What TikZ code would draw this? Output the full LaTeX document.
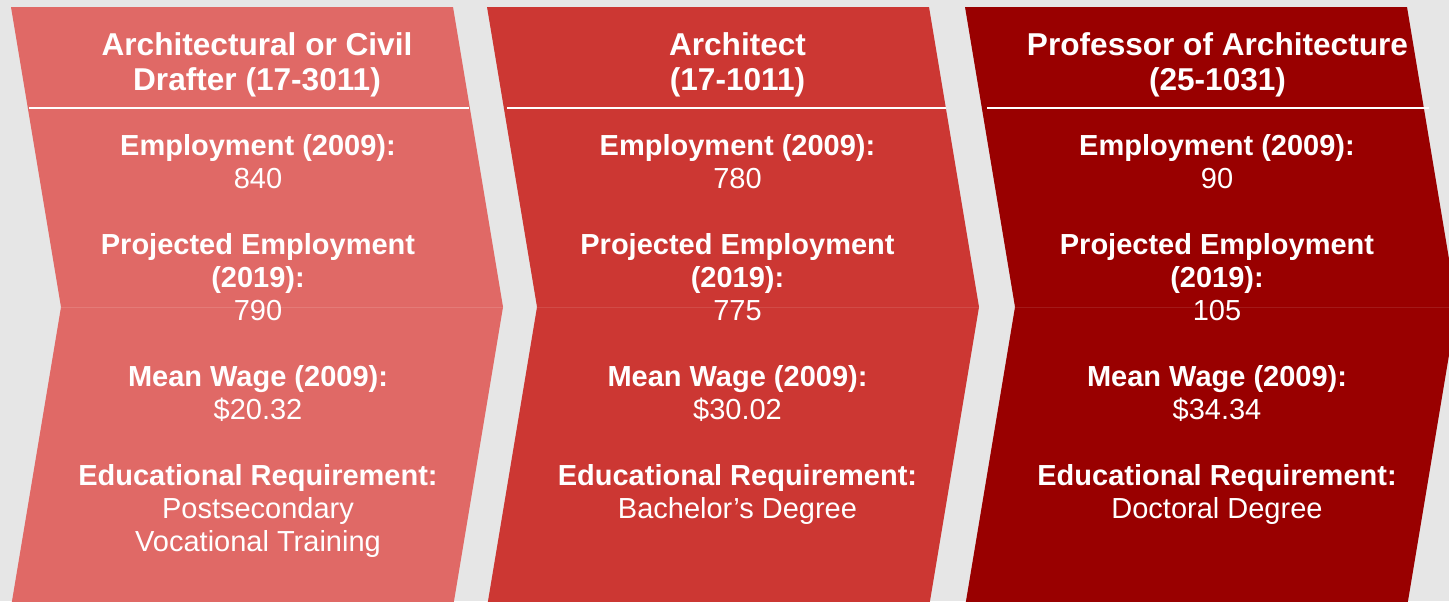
\documentclass[tikz,border=0pt]{standalone}
\usepackage{fontspec}
\setmainfont{Liberation Sans}

\definecolor{drafterred}{HTML}{E06966}
\definecolor{architectred}{HTML}{CC3733}
\definecolor{professorred}{HTML}{990000}
\definecolor{slidegray}{HTML}{E6E6E6}

% one chevron, its top left corner at (#1,7)
\newcommand{\chevronpath}[1]{(#1,7) -- ++(442,0) -- ++(50,300) -- ++(-50,300) -- ++(-442,0) -- ++(50,-300) -- cycle}
\newcommand{\firstline}{\rule{0pt}{20pt}}

\begin{document}
\begin{tikzpicture}[x=0.75pt,y=-0.75pt,
                    heading/.style={font=\fontsize{23.7pt}{26.25pt}\selectfont\bfseries,text=white,
                                    align=center,anchor=north,inner sep=0pt},
                    facts/.style={font=\fontsize{21.75pt}{24.75pt}\selectfont,text=white,
                                  align=center,anchor=north,inner sep=0pt},
                    underline/.style={white,line width=1.5pt},
                    seam/.style={line width=0.6pt}]
      \useasboundingbox (0,0) rectangle (1449,601);
      \fill[slidegray] (0,0) rectangle (1449,601);

      \fill[drafterred] \chevronpath{11};
      \fill[architectred] \chevronpath{487};
      \fill[professorred] \chevronpath{965};

      \draw[seam,drafterred!88!white] (61,307) -- (503,307);
      \draw[seam,architectred!90!white] (537,307) -- (979,307);
      \draw[seam,professorred!90!white] (1015,307) -- (1449,307);

      \draw[underline] (29,108) -- (469,108);
      \draw[underline] (507,108) -- (946,108);
      \draw[underline] (987,108) -- (1429,108);

      \node[heading] (drafter) at (257,28.3) {\firstline Architectural or Civil\\Drafter (17-3011)};
      \node[heading] (architect) at (737.5,28.3) {\firstline Architect\\(17-1011)};
      \node[heading] (professor) at (1217.5,28.3) {\firstline Professor of Architecture\\(25-1031)};

      \node[facts] (drafter facts) at (258,128.3) {
        \firstline\textbf{Employment (2009):}\\
        840\\[24.75pt]
        \textbf{Projected Employment}\\
        \textbf{(2019):}\\
        790\\[24.75pt]
        \textbf{Mean Wage (2009):}\\
        \$20.32\\[24.75pt]
        \textbf{Educational Requirement:}\\
        Postsecondary\\
        Vocational Training
      };
      \node[facts] (architect facts) at (737.5,128.3) {
        \firstline\textbf{Employment (2009):}\\
        780\\[24.75pt]
        \textbf{Projected Employment}\\
        \textbf{(2019):}\\
        775\\[24.75pt]
        \textbf{Mean Wage (2009):}\\
        \$30.02\\[24.75pt]
        \textbf{Educational Requirement:}\\
        Bachelor’s Degree
      };
      \node[facts] (professor facts) at (1217,128.3) {
        \firstline\textbf{Employment (2009):}\\
        90\\[24.75pt]
        \textbf{Projected Employment}\\
        \textbf{(2019):}\\
        105\\[24.75pt]
        \textbf{Mean Wage (2009):}\\
        \$34.34\\[24.75pt]
        \textbf{Educational Requirement:}\\
        Doctoral Degree
      };
    \end{tikzpicture}
\end{document}
